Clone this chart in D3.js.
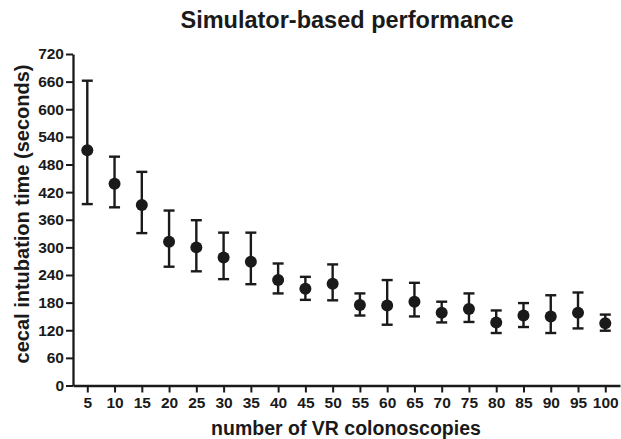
<!DOCTYPE html>
<html>
<head>
<meta charset="utf-8">
<script src="https://cdn.jsdelivr.net/npm/d3@7"></script>
<style>
  html, body { margin: 0; padding: 0; background: #fff; }
  svg { display: block; font-family: Arial, "Liberation Sans", Helvetica, sans-serif; }
</style>
</head>
<body>
<svg id="chart" width="621" height="439"></svg>
<script>
// Number of VR colonoscopies performed
const sessions = [5, 10, 15, 20, 25, 30, 35, 40, 45, 50, 55, 60, 65, 70, 75, 80, 85, 90, 95, 100];
// Mean cecal intubation time (seconds)
const meanTime = [511, 438, 392, 312, 300, 278, 269, 229, 210, 221, 175, 174, 182, 158, 166, 137, 152, 150, 158, 135];
// Upper and lower error bar limits (seconds)
const upperTime = [662, 497, 464, 380, 359, 332, 332, 265, 236, 263, 200, 229, 223, 182, 200, 163, 179, 196, 202, 154];
const lowerTime = [394, 387, 331, 258, 248, 231, 220, 200, 186, 185, 152, 132, 150, 137, 138, 114, 127, 114, 124, 119];
const yTicks = [0, 60, 120, 180, 240, 300, 360, 420, 480, 540, 600, 660, 720];

const svg = d3.select("#chart");
const plotLeft = 73, plotRight = 620, plotTop = 54, plotBottom = 385.5;

const x = d3.scaleLinear().domain([2.38, 102.7]).range([plotLeft, plotRight]);
const y = d3.scaleLinear().domain([0, 720]).range([plotBottom, plotTop]);

const ink = "#1a1a1a";

// Axes
const yAxis = svg.append("g")
  .attr("transform", `translate(${plotLeft},0)`)
  .call(d3.axisLeft(y).tickValues(yTicks).tickSize(7).tickPadding(2).tickSizeOuter(0));
const xAxis = svg.append("g")
  .attr("transform", `translate(0,${plotBottom})`)
  .call(d3.axisBottom(x).tickValues(sessions).tickSize(7).tickPadding(4).tickSizeOuter(0));

[yAxis, xAxis].forEach(g => {
  g.select(".domain").attr("stroke", ink).attr("stroke-width", 2.3);
  g.selectAll(".tick line").attr("stroke", ink).attr("stroke-width", 2);
  g.selectAll(".tick text")
    .attr("fill", ink)
    .style("font-size", "15.5px")
    .style("font-weight", "bold")
    .style("font-family", "Arial, 'Liberation Sans', sans-serif");
});

// Error bars
const rows = sessions.map((s, i) => ({ s, m: meanTime[i], hi: upperTime[i], lo: lowerTime[i] }));
const capHalf = 5.5;
const bars = svg.append("g").attr("stroke", ink).attr("stroke-width", 2.4);
bars.selectAll("line.stem").data(rows).join("line")
  .attr("class", "stem")
  .attr("x1", d => x(d.s)).attr("x2", d => x(d.s))
  .attr("y1", d => y(d.hi)).attr("y2", d => y(d.lo));
bars.selectAll("line.capHi").data(rows).join("line")
  .attr("class", "capHi")
  .attr("x1", d => x(d.s) - capHalf).attr("x2", d => x(d.s) + capHalf)
  .attr("y1", d => y(d.hi)).attr("y2", d => y(d.hi));
bars.selectAll("line.capLo").data(rows).join("line")
  .attr("class", "capLo")
  .attr("x1", d => x(d.s) - capHalf).attr("x2", d => x(d.s) + capHalf)
  .attr("y1", d => y(d.lo)).attr("y2", d => y(d.lo));

// Mean markers
svg.append("g").selectAll("circle").data(rows).join("circle")
  .attr("cx", d => x(d.s))
  .attr("cy", d => y(d.m))
  .attr("r", 6)
  .attr("fill", ink);

// Title and axis labels
svg.append("text")
  .attr("x", 347).attr("y", 28)
  .attr("text-anchor", "middle")
  .style("font-size", "23.5px").style("font-weight", "bold")
  .attr("fill", ink)
  .text("Simulator-based performance");

svg.append("text")
  .attr("x", 346).attr("y", 435)
  .attr("text-anchor", "middle")
  .style("font-size", "19.5px").style("font-weight", "bold")
  .attr("fill", ink)
  .text("number of VR colonoscopies");

svg.append("text")
  .attr("transform", "translate(29,214) rotate(-90)")
  .attr("text-anchor", "middle")
  .style("font-size", "20px").style("font-weight", "bold")
  .attr("fill", ink)
  .text("cecal intubation time (seconds)");
</script>
</body>
</html>
